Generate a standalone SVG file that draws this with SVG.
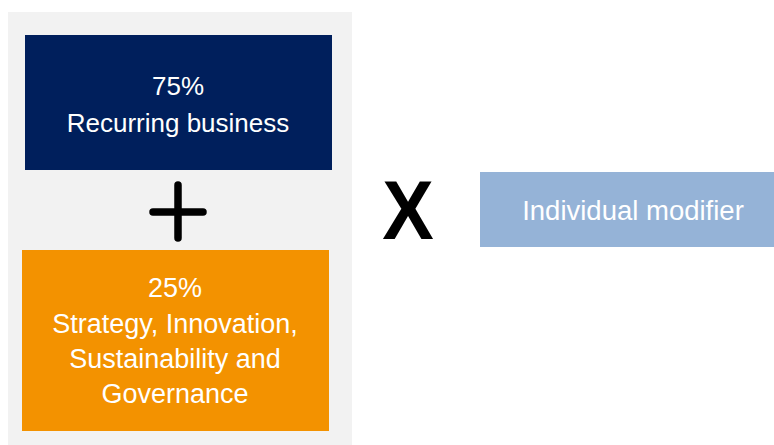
<svg xmlns="http://www.w3.org/2000/svg" width="774" height="445" viewBox="0 0 774 445">
<style>
.t{font-family:"Liberation Sans",Arial,sans-serif;font-size:26px;fill:#ffffff;text-anchor:middle}
.o{font-size:27px}
</style>
<rect x="0" y="0" width="774" height="445" fill="#ffffff"/>
<rect id="panel" x="8" y="12" width="344" height="433" fill="#f2f2f2"/>
<g id="recurring">
<rect x="25" y="35" width="307" height="135" fill="#001f5c"/>
<text class="t" x="178" y="95">75%</text>
<text class="t" x="178" y="132">Recurring business</text>
</g>
<g id="plus">
<path d="M178 185V238M153 212H203" stroke="#000" stroke-width="7.5" stroke-linecap="round" fill="none"/>
</g>
<g id="strategy">
<rect x="22" y="250" width="307" height="181" fill="#f39200"/>
<text class="t o" x="175" y="297">25%</text>
<text class="t o" x="175" y="333">Strategy, Innovation,</text>
<text class="t o" x="175" y="368">Sustainability and</text>
<text class="t o" x="175" y="403">Governance</text>
</g>
<g id="times">
<text x="0" y="0" transform="translate(408 239) scale(0.92 1)" font-family="Liberation Sans,Arial,sans-serif" font-weight="bold" font-size="84" text-anchor="middle" fill="#000">X</text>
</g>
<g id="modifier">
<rect x="480" y="172" width="294" height="75" fill="#95b3d7"/>
<text class="t" x="633" y="220" style="font-size:27.5px">Individual modifier</text>
</g>
<g id="connectors"></g>
</svg>
